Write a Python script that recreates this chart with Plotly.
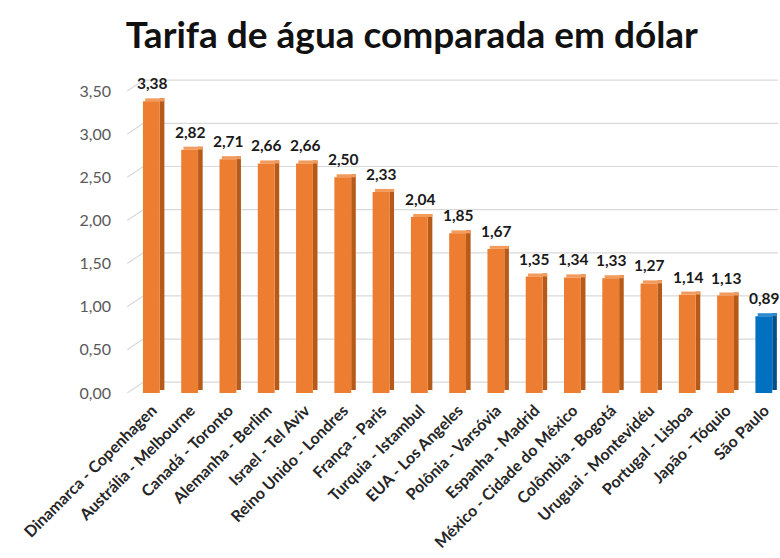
import plotly.graph_objects as go

# Tarifas de água por cidade (US$)
cidades = [
    "Dinamarca - Copenhagen", "Austrália - Melbourne", "Canadá - Toronto",
    "Alemanha - Berlim", "Israel - Tel Aviv", "Reino Unido - Londres",
    "França - Paris", "Turquia - Istambul", "EUA - Los Angeles",
    "Polônia - Varsóvia", "Espanha - Madrid", "México - Cidade do México",
    "Colômbia - Bogotá", "Uruguai - Montevidéu", "Portugal - Lisboa",
    "Japão - Tóquio", "São Paulo",
]
tarifas = [3.38, 2.82, 2.71, 2.66, 2.66, 2.50, 2.33, 2.04, 1.85,
           1.67, 1.35, 1.34, 1.33, 1.27, 1.14, 1.13, 0.89]
marcas_y = [0.0, 0.5, 1.0, 1.5, 2.0, 2.5, 3.0, 3.5]
y_max = 3.5
destaque = "São Paulo"

laranja, laranja_lado, laranja_topo = "#ED7D31", "#B65A1A", "#F29B5C"
azul, azul_lado, azul_topo = "#0070C0", "#004F8A", "#2F8BD0"

def cores(normal, realce):
    return [realce if c == destaque else normal for c in cidades]

prof = 0.035   # deslocamento vertical da face lateral (efeito 3D)
fundo = 0.125  # elevação das linhas de grade na parede do fundo

fig = go.Figure()

# face lateral (mais escura)
fig.add_trace(go.Bar(
    x=cidades, y=tarifas, base=[prof] * len(tarifas),
    width=0.12, offset=0.2,
    marker=dict(color=cores(laranja_lado, azul_lado), line=dict(width=0)),
    hoverinfo="skip", showlegend=False,
))
# face superior (mais clara)
fig.add_trace(go.Bar(
    x=cidades, y=[prof] * len(tarifas), base=tarifas,
    width=0.5, offset=-0.18,
    marker=dict(color=cores(laranja_topo, azul_topo), line=dict(width=0)),
    hoverinfo="skip", showlegend=False,
))
# face frontal
fig.add_trace(go.Bar(
    x=cidades, y=tarifas,
    width=0.44, offset=-0.24,
    marker=dict(color=cores(laranja, azul), line=dict(width=0)),
    showlegend=False,
))

# rótulos de valor acima de cada coluna
for cidade, v in zip(cidades, tarifas):
    fig.add_annotation(
        x=cidade, y=v, text=f"{v:.2f}".replace(".", ","),
        showarrow=False, yanchor="bottom", yshift=7,
        font=dict(family="Lato", size=15.5, color="#1a1a1a", weight="bold"),
    )

# grade em perspectiva: trecho inclinado no piso + linha na parede do fundo
for t in marcas_y:
    y_piso = t / y_max
    y_parede = (t + fundo) / y_max
    fig.add_shape(type="line", xref="paper", yref="paper", layer="below",
                  x0=-0.009, y0=y_piso, x1=0.016, y1=y_parede,
                  line=dict(color="#D9D9D9", width=1.2))
    fig.add_shape(type="line", xref="paper", yref="paper", layer="below",
                  x0=0.016, y0=y_parede, x1=1, y1=y_parede,
                  line=dict(color="#D9D9D9", width=1.2))

fig.update_layout(
    width=780, height=558,
    margin=dict(l=133, r=2, t=91, b=165),
    paper_bgcolor="white", plot_bgcolor="white",
    barmode="overlay",
    separators=",.",
    title=dict(
        text="Tarifa de água comparada em dólar",
        x=0.528, xanchor="center", y=0.937, yanchor="middle",
        font=dict(family="Lato", size=37, color="#111111", weight="bold"),
    ),
    xaxis=dict(
        type="category", range=[-0.5, 16.35],
        tickangle=-45, showgrid=False, zeroline=False, showline=False,
        ticks="", ticklen=0, ticklabelstandoff=4,
        tickfont=dict(family="Lato", size=16, color="#262626", weight="bold"),
    ),
    yaxis=dict(
        range=[0, y_max], tickvals=marcas_y, tickformat=".2f",
        showgrid=False, zeroline=False,
        showline=False, ticks="", ticklabelstandoff=21,
        tickfont=dict(family="Lato", size=16, color="#595959"),
    ),
)

fig.write_html("out.html")
